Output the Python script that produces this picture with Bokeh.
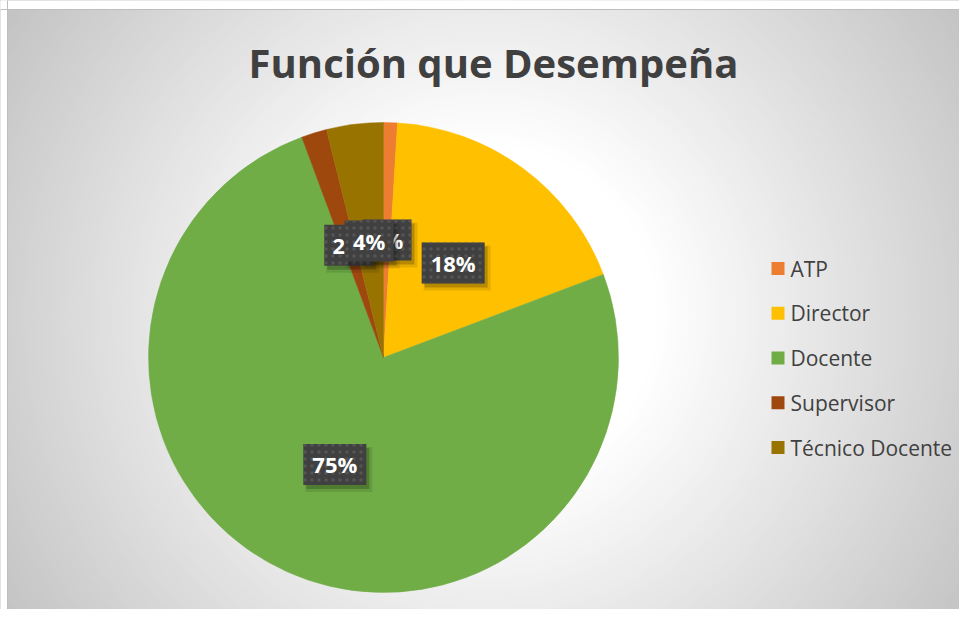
import math
from bokeh.plotting import figure
from bokeh.models import Range1d, Span
from bokeh.core.properties import value
from bokeh.embed import file_html
from bokeh.resources import INLINE

# ---- data ----
categories = ["ATP", "Director", "Docente", "Supervisor", "Técnico Docente"]
shares = [0.95, 18.3, 75.1, 1.75, 3.9]
colors = ["#ED7D31", "#FFC000", "#70AD47", "#9E480E", "#997300"]
title_text = "Función que Desempeña"

W, H = 959, 609
FONT = value("Open Sans")

p = figure(width=W, height=H, x_range=Range1d(0, W), y_range=Range1d(0, H),
           output_backend="svg", toolbar_location=None,
           x_axis_type=None, y_axis_type=None, min_border=0)
p.outline_line_color = None
p.background_fill_color = "#c4c4c4"
p.border_fill_color = "#c4c4c4"

# ---- radial gradient background (concentric rings) ----
gx, gy = 485, 294
radii = list(range(640, 165, -4))
def gray(r):
    v = int(round(max(196, min(255, 255 - 0.15 * (r - 170)))))
    return "#%02x%02x%02x" % (v, v, v)
p.circle(x=[gx] * len(radii), y=[gy] * len(radii), radius=radii,
         fill_color=[gray(r) for r in radii], line_color=None)

# white page margin outside the chart area (left / top)
p.quad(left=[-10, -10], right=[6.5, W + 10], bottom=[-10, 600.5], top=[H + 10, H + 10],
       fill_color="white", line_color=None)
p.add_layout(Span(location=7, dimension="height", line_color="#bdbdbd", line_width=1))
p.add_layout(Span(location=600, dimension="width", line_color="#bdbdbd", line_width=1))

# ---- pie ----
cx, cy, R = 383, 252, 235
total = sum(shares)
starts, ends = [], []
c = 0.0
for s in shares:
    starts.append(math.pi / 2 - 2 * math.pi * c / total)
    c += s
    ends.append(math.pi / 2 - 2 * math.pi * c / total)
p.wedge(x=cx, y=cy, radius=R, start_angle=starts, end_angle=ends,
        direction="clock", fill_color=colors, line_color=colors, line_width=0.5)

# ---- data labels ----
for i, s in enumerate(shares):
    lab = f"{round(s / total * 100)}%"
    mid = (starts[i] + ends[i]) / 2
    lx = cx + 0.5 * R * math.cos(mid)
    ly = cy + 0.5 * R * math.sin(mid)
    bw = 14 * len(lab) + 21
    bh = 41
    p.rect(x=[lx + 4], y=[ly - 5], width=bw + 4, height=bh + 4,
           fill_color="black", fill_alpha=0.10, line_color=None)
    p.rect(x=[lx + 3], y=[ly - 4], width=bw, height=bh,
           fill_color="black", fill_alpha=0.20, line_color=None)
    p.rect(x=[lx], y=[ly], width=bw, height=bh, fill_color="#404040",
           line_color=None, hatch_pattern="dot", hatch_color="#555555",
           hatch_scale=7, hatch_weight=1.5)
    p.text(x=[lx], y=[ly], text=[lab], text_font=FONT, text_font_style="bold",
           text_font_size="22px", text_color="white",
           text_align="center", text_baseline="middle")

# ---- legend ----
for i, cat in enumerate(categories):
    ly = 341 - 44.75 * i
    p.scatter(x=[777.5], y=[ly], marker="square", size=13,
              fill_color=colors[i], line_color=None)
    p.text(x=[790], y=[ly], text=[cat], text_font=FONT, text_font_size="21px",
           text_color="#404040", text_align="left", text_baseline="middle")

# ---- title ----
p.text(x=[493], y=[547], text=[title_text], text_font=FONT,
       text_font_style="bold", text_font_size="40px", text_color="#404040",
       text_align="center", text_baseline="middle")

open("out.html", "w").write(file_html(p, INLINE))
